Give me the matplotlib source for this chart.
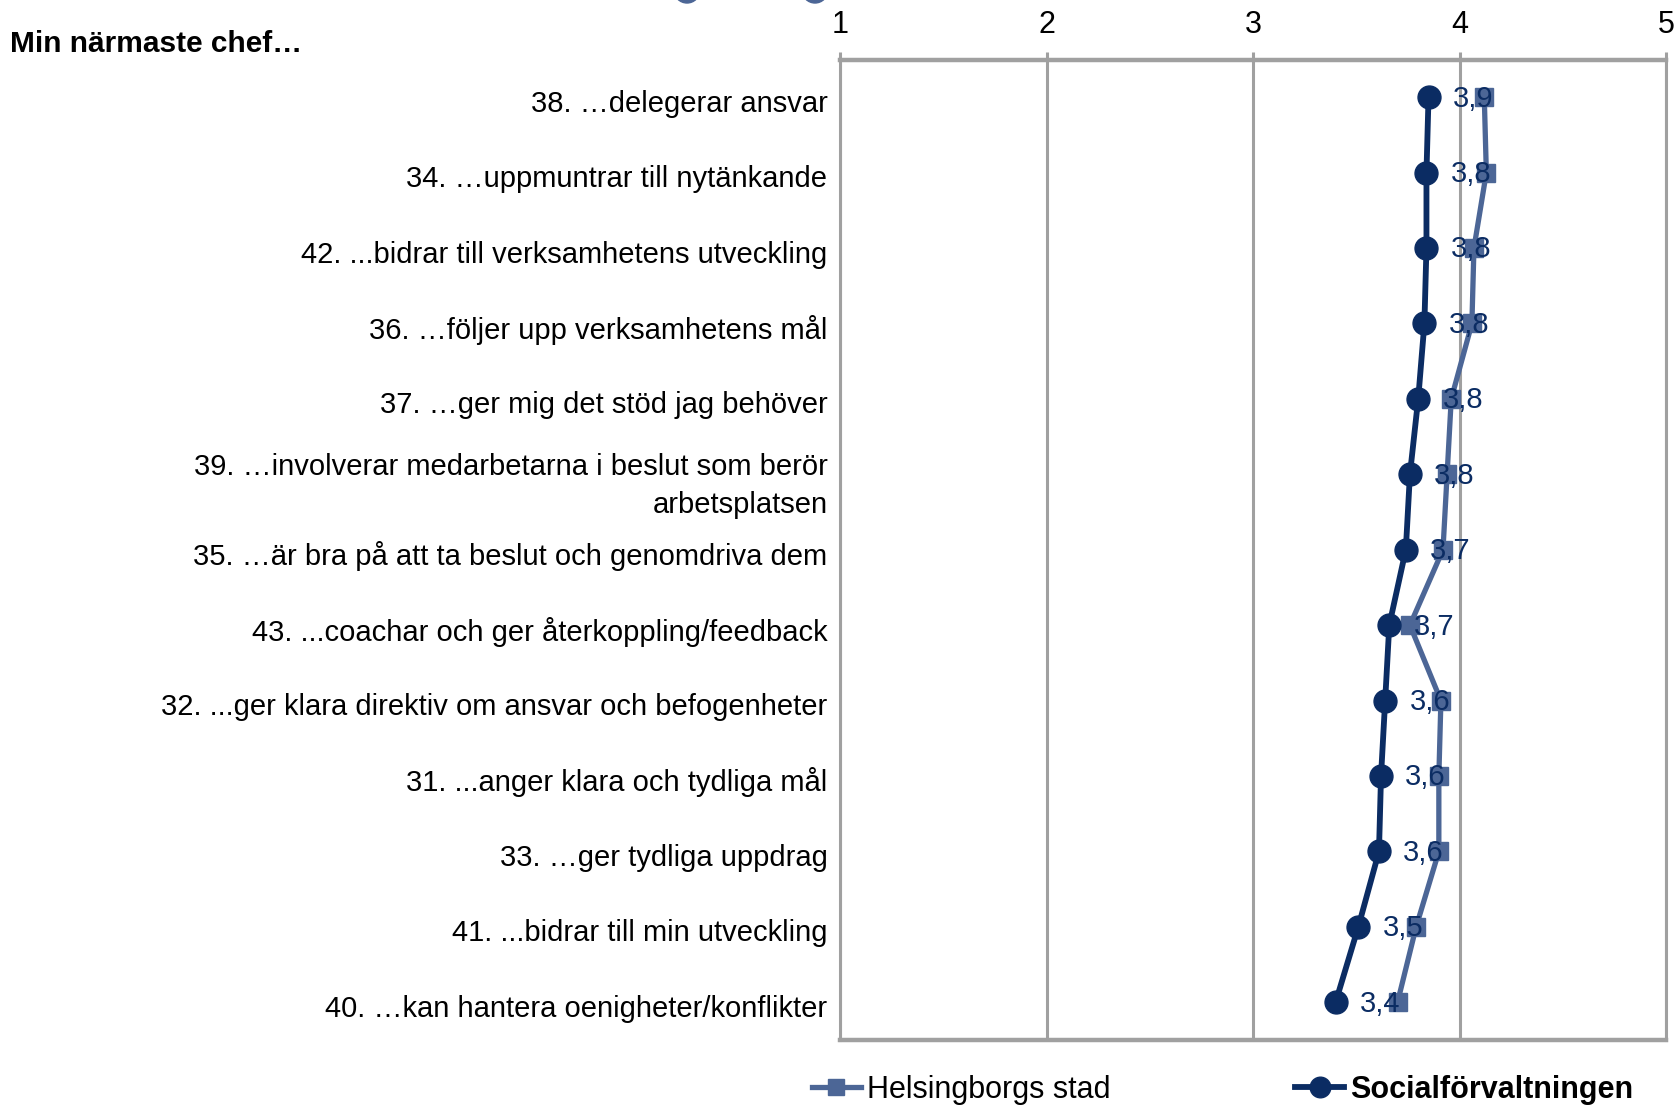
import matplotlib
matplotlib.use("Agg")
import matplotlib.pyplot as plt
from matplotlib.patches import Ellipse
from matplotlib.transforms import ScaledTranslation
import numpy as np

plt.rcParams['font.family'] = ['Liberation Sans', 'DejaVu Sans']

# Survey items, top to bottom
categories = [
    "38. …delegerar ansvar",
    "34. …uppmuntrar till nytänkande",
    "42. ...bidrar till verksamhetens utveckling",
    "36. …följer upp verksamhetens mål",
    "37. …ger mig det stöd jag behöver",
    "39. …involverar medarbetarna i beslut som berör\narbetsplatsen",
    "35. …är bra på att ta beslut och genomdriva dem",
    "43. ...coachar och ger återkoppling/feedback",
    "32. ...ger klara direktiv om ansvar och befogenheter",
    "31. ...anger klara och tydliga mål",
    "33. …ger tydliga uppdrag",
    "41. ...bidrar till min utveckling",
    "40. …kan hantera oenigheter/konflikter",
]

# Mean scores (scale 1-5)
helsingborg = [4.12, 4.13, 4.07, 4.06, 3.96, 3.94, 3.92, 3.76, 3.91, 3.90, 3.90, 3.79, 3.70]
social = [3.85, 3.84, 3.84, 3.83, 3.80, 3.76, 3.74, 3.66, 3.64, 3.62, 3.61, 3.51, 3.40]

series_names = ["Helsingborgs stad", "Socialförvaltningen"]
x_ticks = [1, 2, 3, 4, 5]

NAVY = "#0b2c63"
STEEL = "#4c6696"
GRID = "#a0a0a0"

W, H = 1680, 1107
fig = plt.figure(figsize=(W / 100, H / 100), dpi=100)
ax = fig.add_axes([840 / W, 1 - 1040 / H, (1666 - 840) / W, (1040 - 59.5) / H])

y = np.arange(len(categories))

ax.plot(helsingborg, y, color=STEEL, lw=3.8, marker="s", ms=13,
        mec=STEEL, mfc=STEEL, label=series_names[0], zorder=3)
ax.plot(social, y, color=NAVY, lw=4.2, marker="o", ms=16.5,
        mec=NAVY, mfc=NAVY, label=series_names[1], zorder=4)

for v, yy in zip(social, y):
    ax.annotate(f"{v:.1f}".replace(".", ","), (v, yy), xytext=(17.5, -1),
                textcoords="offset points", ha="left", va="center",
                fontsize=21, color=NAVY, zorder=6)

ax.set_xlim(1, 5)
ax.set_ylim(len(categories) - 0.5, -0.5)
ax.set_xticks(x_ticks)
ax.set_xticklabels([str(t) for t in x_ticks])
ax.xaxis.tick_top()
ax.tick_params(axis="x", which="major", direction="out", length=6, width=2.2,
               color=GRID, pad=8, labelsize=22, labelcolor="black")
ax.set_yticks(y)
ax.set_yticklabels(categories, fontsize=21, linespacing=1.48)
ax.tick_params(axis="y", length=0, pad=9)
shift = ScaledTranslation(0, -2.5 / 72, fig.dpi_scale_trans)
for lbl in ax.get_yticklabels():
    lbl.set_transform(lbl.get_transform() + shift)

ax.grid(axis="x", color=GRID, lw=2.2, zorder=0)
ax.set_axisbelow(True)
for s in ax.spines.values():
    s.set_color(GRID)
    s.set_linewidth(2.2)
ax.spines["top"].set_linewidth(3.2)
ax.spines["bottom"].set_linewidth(3.2)

fig.text(10 / W, 1 - 44 / H, "Min närmaste chef…", fontsize=21.5,
         fontweight="bold", ha="left", va="center")

# partially visible markers along the upper edge
for cx in (687, 815):
    fig.add_artist(Ellipse((cx / W, 1 + 10 / H), 26 / W, 26 / H,
                           color=STEEL, transform=fig.transFigure, clip_on=False))

leg = fig.legend(loc="center left", bbox_to_anchor=(812 / W, 1 - 1090 / H),
                 ncol=2, frameon=False, fontsize=22, handlelength=1.6,
                 handletextpad=0.2, columnspacing=6.05, borderpad=0,
                 borderaxespad=0, markerscale=0.9)
leg.get_texts()[1].set_fontweight("bold")

fig.savefig("out.png", dpi=100, facecolor="white")
